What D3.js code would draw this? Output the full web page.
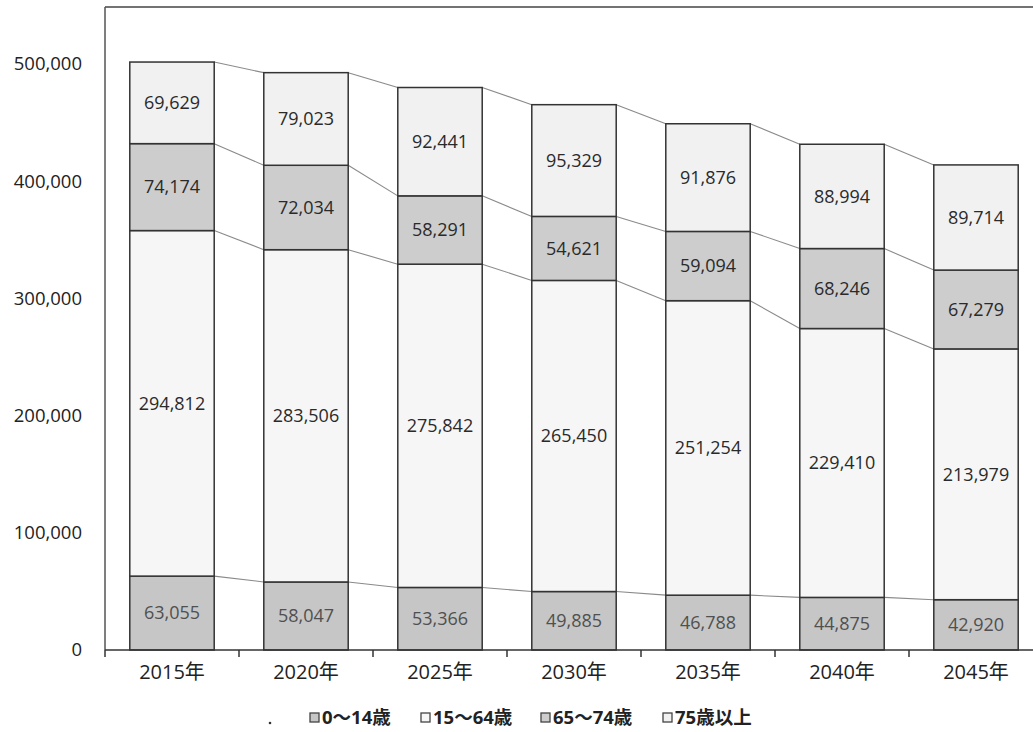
<!DOCTYPE html>
<html>
<head>
<meta charset="utf-8">
<script src="https://cdn.jsdelivr.net/npm/d3@7"></script>
<style>
  html, body { margin: 0; padding: 0; background: #fff; }
  svg { display: block; font-family: "Open Sans", "Noto Sans CJK JP", sans-serif; }
</style>
</head>
<body>
<svg id="chart" width="1033" height="732"></svg>
<script>
// Population by age group, 2015–2045
const years = ["2015年", "2020年", "2025年", "2030年", "2035年", "2040年", "2045年"];
const seriesNames = ["0〜14歳", "15〜64歳", "65〜74歳", "75歳以上"];
const age0to14   = [63055, 58047, 53366, 49885, 46788, 44875, 42920];
const age15to64  = [294812, 283506, 275842, 265450, 251254, 229410, 213979];
const age65to74  = [74174, 72034, 58291, 54621, 59094, 68246, 67279];
const age75plus  = [69629, 79023, 92441, 95329, 91876, 88994, 89714];
const yTicks = [0, 100000, 200000, 300000, 400000, 500000];

const fills = ["#c6c6c6", "#f6f6f6", "#cdcdcd", "#f1f1f1"];
const labelColors = ["#505050", "#2a2a2a", "#2a2a2a", "#2a2a2a"];

const svg = d3.select("#chart");

const rows = years.map((y, i) => ({
  year: y,
  "0〜14歳": age0to14[i],
  "15〜64歳": age15to64[i],
  "65〜74歳": age65to74[i],
  "75歳以上": age75plus[i]
}));
const stacked = d3.stack().keys(seriesNames)(rows);

const x = d3.scaleBand().domain(years).range([105, 1043]).paddingInner(0.37).paddingOuter(0.185);
const y = d3.scaleLinear().domain([0, 500000]).range([650, 64]);
const bw = x.bandwidth();

// Plot frame: top border and left axis line
svg.append("line").attr("x1", 105).attr("x2", 1033).attr("y1", 7).attr("y2", 7)
  .attr("stroke", "#444").attr("stroke-width", 1.5);
svg.append("line").attr("x1", 105).attr("x2", 105).attr("y1", 7).attr("y2", 650)
  .attr("stroke", "#555").attr("stroke-width", 1.5);

// Y tick labels
svg.append("g").selectAll("text").data(yTicks).join("text")
  .attr("x", 82).attr("y", d => y(d)).attr("dy", "0.35em")
  .attr("text-anchor", "end").attr("font-size", 18.5).attr("fill", "#222")
  .text(d => d3.format(",")(d));

// Series connector lines between neighbouring bars
stacked.forEach(layer => {
  for (let i = 0; i < layer.length - 1; i++) {
    svg.append("line")
      .attr("x1", x(years[i]) + bw).attr("y1", y(layer[i][1]))
      .attr("x2", x(years[i + 1])).attr("y2", y(layer[i + 1][1]))
      .attr("stroke", "#8a8a8a").attr("stroke-width", 1.1);
  }
});

// Stacked bars
stacked.forEach((layer, k) => {
  svg.append("g").selectAll("rect").data(layer).join("rect")
    .attr("x", d => x(d.data.year))
    .attr("y", d => y(d[1]))
    .attr("width", bw)
    .attr("height", d => y(d[0]) - y(d[1]))
    .attr("fill", fills[k])
    .attr("stroke", "#333").attr("stroke-width", 1.5);
});

// Value labels
stacked.forEach((layer, k) => {
  svg.append("g").selectAll("text").data(layer).join("text")
    .attr("x", d => x(d.data.year) + bw / 2)
    .attr("y", d => (y(d[0]) + y(d[1])) / 2)
    .attr("dy", "0.35em")
    .attr("text-anchor", "middle").attr("font-size", 18)
    .attr("fill", labelColors[k])
    .text(d => d3.format(",")(d[1] - d[0]));
});

// X axis line and ticks between categories
svg.append("line").attr("x1", 105).attr("x2", 1033).attr("y1", 650).attr("y2", 650)
  .attr("stroke", "#333").attr("stroke-width", 1.5);
svg.append("g").selectAll("line").data(years).join("line")
  .attr("x1", d => x(d) - (x.step() - bw) / 2).attr("x2", d => x(d) - (x.step() - bw) / 2)
  .attr("y1", 650).attr("y2", 657).attr("stroke", "#333").attr("stroke-width", 1.5);

// X labels
svg.append("g").selectAll("text").data(years).join("text")
  .attr("x", d => x(d) + bw / 2).attr("y", 672).attr("dy", "0.35em")
  .attr("text-anchor", "middle").attr("font-size", 20).attr("fill", "#222")
  .text(d => d);

// Legend
const legendX = [310, 421, 541, 663];
svg.append("circle").attr("cx", 270).attr("cy", 723).attr("r", 1.3).attr("fill", "#333");
const lg = svg.append("g").selectAll("g").data(seriesNames).join("g")
  .attr("transform", (d, i) => `translate(${legendX[i]},718)`);
lg.append("rect").attr("x", 0).attr("y", -5).attr("width", 9).attr("height", 9)
  .attr("fill", (d, i) => fills[i]).attr("stroke", "#444").attr("stroke-width", 1.3);
lg.append("text").attr("x", 12).attr("y", 0).attr("dy", "0.35em")
  .attr("font-size", 18.5).attr("font-weight", "bold").attr("fill", "#222")
  .text(d => d);
</script>
</body>
</html>
